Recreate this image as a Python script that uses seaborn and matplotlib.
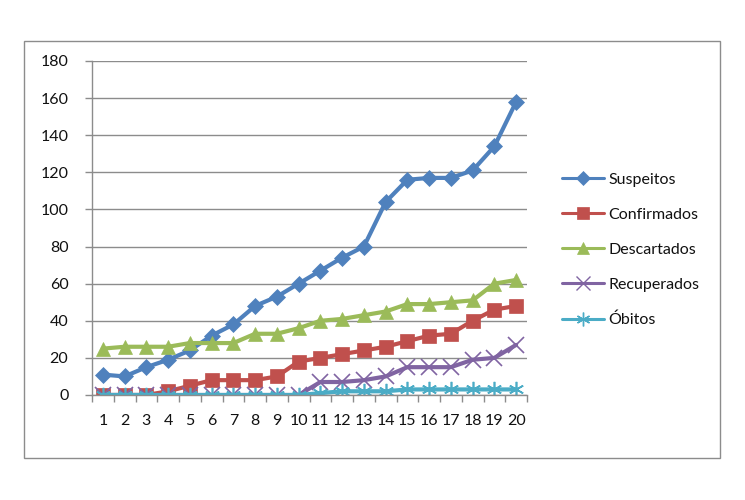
import numpy as np
import pandas as pd
import matplotlib
matplotlib.use("Agg")
import matplotlib.pyplot as plt
import seaborn as sns
from matplotlib.patches import Rectangle
from matplotlib.lines import Line2D

# ============================================================
# DATA
# ============================================================

dias = list(range(1, 21))

suspeitos = [11, 10, 15, 19, 24, 32, 38, 48, 53, 60,
             67, 74, 80, 104, 116, 117, 117, 121, 134, 158]
confirmados = [0, 0, 0, 2, 5, 8, 8, 8, 10, 18,
               20, 22, 24, 26, 29, 32, 33, 40, 46, 48]
descartados = [25, 26, 26, 26, 28, 28, 28, 33, 33, 36,
               40, 41, 43, 45, 49, 49, 50, 51, 60, 62]
recuperados = [0, 0, 0, 0, 0, 0, 0, 0, 0, 0,
               7, 7, 8, 10, 15, 15, 15, 19, 20, 27]
obitos = [0, 0, 0, 0, 0, 0, 0, 0, 0, 0,
          1, 2, 2, 2, 3, 3, 3, 3, 3, 3]

series_names = ["Suspeitos", "Confirmados", "Descartados", "Recuperados", "Óbitos"]
series_values = [suspeitos, confirmados, descartados, recuperados, obitos]

# ============================================================
# STYLE
# ============================================================

sns.set_theme(style="white")
plt.rcParams["font.family"] = ["Lato", "DejaVu Sans"]

colors = ["#4F81BD", "#C0504D", "#9BBB59", "#8064A2", "#4BACC6"]
markers = ["D", "s", "^", "x", (6, 2, 0)]
msizes = [8, 10, 10, 11, 11]

df = pd.DataFrame({"dia": dias})
for name, vals in zip(series_names, series_values):
    df[name] = vals

long = df.melt(id_vars="dia", var_name="serie", value_name="valor")

# ============================================================
# PLOT
# ============================================================

fig = plt.figure(figsize=(7.45, 5), dpi=100)
ax = fig.add_axes([92 / 745, 1 - 395 / 500, 435 / 745, 334 / 500])

handles = []
for name, c, m, ms in zip(series_names, colors, markers, msizes):
    sub = long[long["serie"] == name]
    thin = m in ("x", (6, 2, 0))
    sns.lineplot(
        data=sub,
        x="dia",
        y="valor",
        ax=ax,
        color=c,
        lw=3.0,
        marker=m,
        markersize=ms,
        markeredgecolor=c,
        markeredgewidth=1.2 if thin else 0.5,
        legend=False,
    )
    handles.append(
        Line2D([], [], color=c, lw=2.2, marker=m,
               markersize=ms * 0.9, markeredgecolor=c,
               markeredgewidth=1.0 if thin else 0.5)
    )

ax.set_xlim(0.5, 20.5)
ax.set_ylim(0, 180)
ax.set_yticks(np.arange(0, 181, 20))
ax.set_xticks(dias)
ax.set_xticks(np.arange(0.5, 21, 1), minor=True)

ax.yaxis.grid(True, color="#8C8C8C", lw=1.0)
ax.set_axisbelow(True)

for s in ["top", "right"]:
    ax.spines[s].set_visible(False)
for s in ["left", "bottom"]:
    ax.spines[s].set_color("#8C8C8C")
    ax.spines[s].set_linewidth(1.0)

ax.tick_params(axis="y", which="major", direction="out", length=5,
               color="#8C8C8C", width=1, labelsize=11.5, pad=12, left=True,
               labelcolor="#111111")
ax.tick_params(axis="x", which="major", length=0, labelsize=11.5, pad=14,
               labelcolor="#111111")
ax.tick_params(axis="x", which="minor", direction="out", length=5,
               color="#8C8C8C", width=1, bottom=True)

ax.set_xlabel("")
ax.set_ylabel("")

leg = fig.legend(
    handles,
    series_names,
    loc="center left",
    bbox_to_anchor=(548 / 745, 1 - 250 / 500),
    frameon=False,
    fontsize=11.5,
    handlelength=2.6,
    labelspacing=1.3,
    handletextpad=0.3,
)
for t in leg.get_texts():
    t.set_color("#111111")

fig.patches.append(
    Rectangle((24 / 745, 1 - 458 / 500), 696 / 745, 417 / 500,
              transform=fig.transFigure, fill=False,
              edgecolor="#8C8C8C", lw=1.0)
)

fig.savefig("out.png", dpi=100)
